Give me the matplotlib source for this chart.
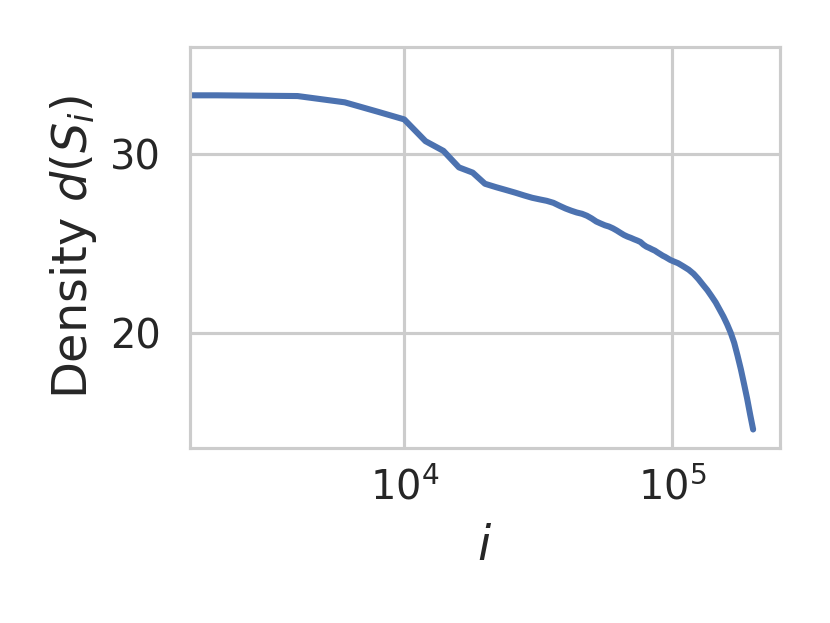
import matplotlib
matplotlib.use("Agg")
import matplotlib.pyplot as plt
import seaborn as sns

## Style

sns.set_theme(style="whitegrid")

## Data

i_vals = [0, 2000, 4000, 6000, 8000, 10000, 12000, 14000, 16000, 18000,
          20000, 22000, 24000, 26000, 28000, 30000, 32000, 34000, 36000, 38000,
          40000, 42000, 44000, 46000, 48000, 50000, 52000, 54000, 56000, 58000,
          60000, 62000, 64000, 66000, 68000, 70000, 72000, 74000, 76000, 78000,
          80000, 82000, 84000, 86000, 88000, 90000, 92000, 94000, 96000, 98000,
          100000, 105000, 110000, 115000, 120000, 125000, 130000, 135000,
          140000, 145000, 150000, 155000, 160000, 165000, 170000, 175000,
          180000, 185000, 190000, 195000, 200000]

density = [34.90, 33.24, 33.20, 32.85, 32.32, 31.90, 30.69, 30.15, 29.23, 28.94,
           28.32, 28.13, 27.97, 27.82, 27.67, 27.54, 27.45, 27.37, 27.26, 27.09,
           26.94, 26.82, 26.72, 26.65, 26.54, 26.39, 26.22, 26.11, 26.01, 25.94,
           25.84, 25.72, 25.59, 25.47, 25.38, 25.31, 25.23, 25.16, 25.08, 24.93,
           24.82, 24.75, 24.67, 24.60, 24.50, 24.41, 24.32, 24.25, 24.17, 24.09,
           24.03, 23.90, 23.72, 23.54, 23.31, 23.02, 22.70, 22.40,
           22.06, 21.72, 21.32, 20.93, 20.50, 20.03, 19.47, 18.75,
           18.00, 17.18, 16.36, 15.47, 14.65]

y_ticks = [20, 30]

## Plot

fig = plt.figure(figsize=(3.32, 2.492), dpi=250)
ax = fig.add_axes([0.2289, 0.2814, 0.7108, 0.6427])

ax.plot(i_vals, density, color="#4c72b0", lw=1.75, solid_capstyle="round")
ax.set_xscale("log")
ax.set_yticks(y_ticks)

ax.grid(True, which="major", color="#cccccc", lw=0.9)
ax.grid(False, which="minor")
for s in ax.spines.values():
    s.set_color("#cccccc")
    s.set_linewidth(0.9)

ax.tick_params(axis="both", which="both", length=0, labelsize=11.5, labelcolor="#262626")
ax.tick_params(axis="y", pad=8.5)
ax.tick_params(axis="x", pad=6)

ax.set_xlabel("$i$", fontsize=13.8, color="#262626", labelpad=4)
ax.set_ylabel("Density $d(S_i)$", fontsize=13.8, color="#262626", labelpad=3)

fig.savefig("out.png", dpi=250)
